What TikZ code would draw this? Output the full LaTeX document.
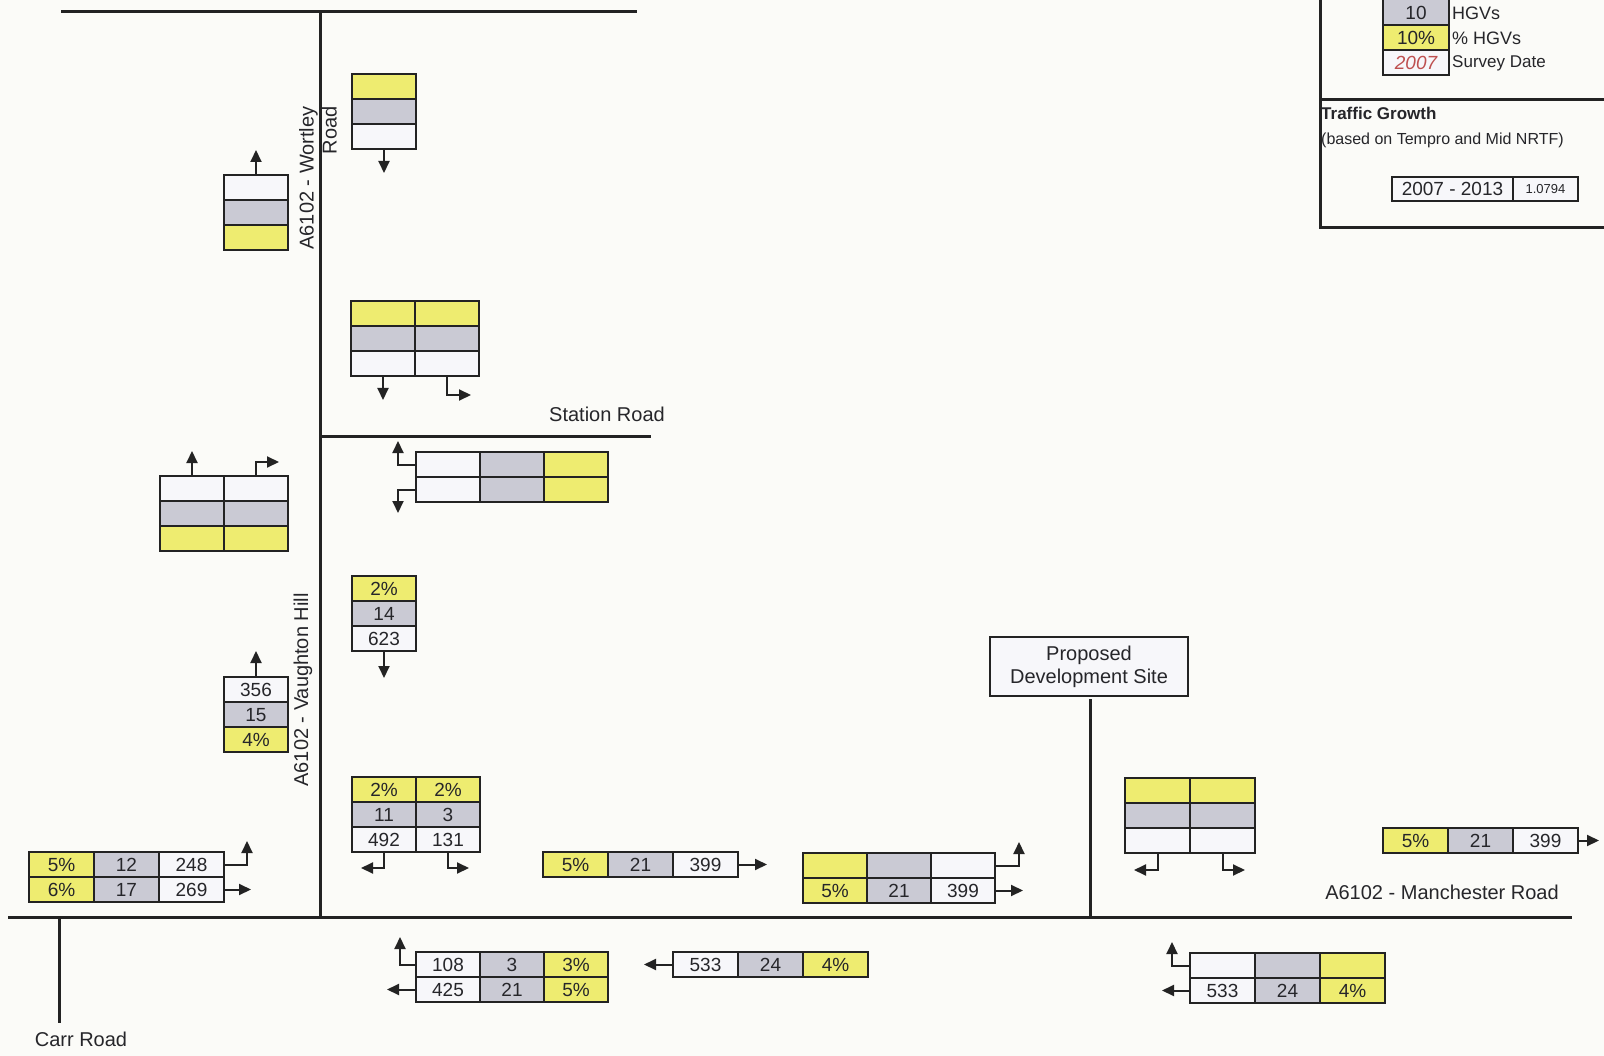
\documentclass[tikz,border=0pt]{standalone}
\usepackage{fontspec}
\setmainfont{Liberation Sans}
\usetikzlibrary{arrows.meta}
\definecolor{yel}{RGB}{238,236,112}
\definecolor{gry}{RGB}{202,202,212}
\definecolor{wht}{RGB}{247,247,250}
\definecolor{linec}{RGB}{35,35,35}
\definecolor{txtc}{RGB}{38,38,42}
\definecolor{bgc}{RGB}{251,251,248}
\definecolor{redt}{RGB}{190,80,80}
\newcommand\cellnode[6]{\node[#1, minimum width=#4pt, minimum height=#5pt] (#2) at (#3) {#6};}
\begin{document}
\begin{tikzpicture}[x=1pt,y=-1pt,
 cell/.style={draw=linec, line width=2pt, inner sep=0pt, outer sep=0pt, anchor=north west, text=txtc, font=\fontsize{19}{19}\selectfont, text height=13.5pt, text depth=0pt},
 cy/.style={cell, fill=yel}, cg/.style={cell, fill=gry}, cw/.style={cell, fill=wht},
 road/.style={draw=linec, line width=3pt},
 arr/.style={draw=linec, line width=2pt, -{Triangle[length=12pt,width=11pt]}},
 lbl/.style={text=txtc, font=\fontsize{20}{23}\selectfont, inner sep=0pt},
 ]
\useasboundingbox (0,0) rectangle (1604,1056);
\clip (0,0) rectangle (1604,1056);
\fill[bgc] (0,0) rectangle (1604,1056);

% roads
\draw[road] (61,12) -- (637,12);
\draw[road] (320,12) -- (320,917);
\draw[road] (320,437) -- (651,437);
\draw[road] (8,917) -- (1572,917);
\draw[road] (59,917) -- (59,1023);
\draw[road] (1090,699) -- (1090,917);

% legend frame
\draw[road] (1320,-5) -- (1320,228) -- (1610,228);
\draw[road] (1320,100) -- (1610,100);

% Table A
\cellnode{cy}{A1}{352,74}{64}{25}{}
\cellnode{cg}{A2}{352,99}{64}{25}{}
\cellnode{cw}{A3}{352,124}{64}{25}{}
\coordinate (cA) at (384,173);
\draw[arr] (A3.south) -- (cA);

% Table B
\cellnode{cw}{B1}{224,175}{64}{25}{}
\cellnode{cg}{B2}{224,200}{64}{25}{}
\cellnode{cy}{B3}{224,225}{64}{25}{}
\coordinate (cB) at (256,150);
\draw[arr] (B1.north) -- (cB);

% Table C
\cellnode{cy}{C11}{351,301}{64}{25}{}
\cellnode{cy}{C12}{415,301}{64}{25}{}
\cellnode{cg}{C21}{351,326}{64}{25}{}
\cellnode{cg}{C22}{415,326}{64}{25}{}
\cellnode{cw}{C31}{351,351}{64}{25}{}
\cellnode{cw}{C32}{415,351}{64}{25}{}
\coordinate (cC1) at (383,400);
\coordinate (cC2) at (471,395);
\draw[arr] (C31.south) -- (cC1);
\draw[arr] (C32.south) |- (cC2);

% Table D
\cellnode{cw}{D11}{160,476}{64}{25}{}
\cellnode{cw}{D12}{224,476}{64}{25}{}
\cellnode{cg}{D21}{160,501}{64}{25}{}
\cellnode{cg}{D22}{224,501}{64}{25}{}
\cellnode{cy}{D31}{160,526}{64}{25}{}
\cellnode{cy}{D32}{224,526}{64}{25}{}
\coordinate (cD1) at (192,451);
\coordinate (cD2) at (279,462);
\draw[arr] (D11.north) -- (cD1);
\draw[arr] (D12.north) |- (cD2);

% Table E
\cellnode{cw}{E11}{416,452}{64}{25}{}
\cellnode{cg}{E12}{480,452}{64}{25}{}
\cellnode{cy}{E13}{544,452}{64}{25}{}
\cellnode{cw}{E21}{416,477}{64}{25}{}
\cellnode{cg}{E22}{480,477}{64}{25}{}
\cellnode{cy}{E23}{544,477}{64}{25}{}
\coordinate (cE1) at (398,441);
\coordinate (cE2) at (398,513);
\draw[arr] (E11.west) -| (cE1);
\draw[arr] (E21.west) -| (cE2);

% Table F
\cellnode{cy}{F1}{352,576}{64}{25}{2\%}
\cellnode{cg}{F2}{352,601}{64}{25}{14}
\cellnode{cw}{F3}{352,626}{64}{25}{623}
\coordinate (cF) at (384,678);
\draw[arr] (F3.south) -- (cF);

% Table G
\cellnode{cw}{G1}{224,677}{64}{25}{356}
\cellnode{cg}{G2}{224,702}{64}{25}{15}
\cellnode{cy}{G3}{224,727}{64}{25}{4\%}
\coordinate (cG) at (256,651);
\draw[arr] (G1.north) -- (cG);

% Table H
\cellnode{cy}{H11}{352,777}{64}{25}{2\%}
\cellnode{cy}{H12}{416,777}{64}{25}{2\%}
\cellnode{cg}{H21}{352,802}{64}{25}{11}
\cellnode{cg}{H22}{416,802}{64}{25}{3}
\cellnode{cw}{H31}{352,827}{64}{25}{492}
\cellnode{cw}{H32}{416,827}{64}{25}{131}
\coordinate (cH1) at (361,868);
\coordinate (cH2) at (469,868);
\draw[arr] (H31.south) |- (cH1);
\draw[arr] (H32.south) |- (cH2);

% Table I
\cellnode{cy}{I11}{29,852}{65}{25}{5\%}
\cellnode{cg}{I12}{94,852}{65}{25}{12}
\cellnode{cw}{I13}{159,852}{65}{25}{248}
\cellnode{cy}{I21}{29,877}{65}{25}{6\%}
\cellnode{cg}{I22}{94,877}{65}{25}{17}
\cellnode{cw}{I23}{159,877}{65}{25}{269}
\coordinate (cI1) at (247,841);
\coordinate (cI2) at (251,889.5);
\draw[arr] (I13.east) -| (cI1);
\draw[arr] (I23.east) -- (cI2);

% Table J
\cellnode{cy}{J1}{543,852}{65}{25}{5\%}
\cellnode{cg}{J2}{608,852}{65}{25}{21}
\cellnode{cw}{J3}{673,852}{65}{25}{399}
\coordinate (cJ) at (767,864.5);
\draw[arr] (J3.east) -- (cJ);

% Table K
\cellnode{cy}{K11}{803,853}{64}{25}{}
\cellnode{cg}{K12}{867,853}{64}{25}{}
\cellnode{cw}{K13}{931,853}{64}{25}{}
\cellnode{cy}{K21}{803,878}{64}{25}{5\%}
\cellnode{cg}{K22}{867,878}{64}{25}{21}
\cellnode{cw}{K23}{931,878}{64}{25}{399}
\coordinate (cK1) at (1019,842);
\coordinate (cK2) at (1023,890.5);
\draw[arr] (K13.east) -| (cK1);
\draw[arr] (K23.east) -- (cK2);

% Table L
\cellnode{cy}{L11}{1125,778}{65}{25}{}
\cellnode{cy}{L12}{1190,778}{65}{25}{}
\cellnode{cg}{L21}{1125,803}{65}{25}{}
\cellnode{cg}{L22}{1190,803}{65}{25}{}
\cellnode{cw}{L31}{1125,828}{65}{25}{}
\cellnode{cw}{L32}{1190,828}{65}{25}{}
\coordinate (cL1) at (1134,870);
\coordinate (cL2) at (1245,870);
\draw[arr] (L31.south) |- (cL1);
\draw[arr] (L32.south) |- (cL2);

% Table M
\cellnode{cy}{M1}{1383,828}{65}{25}{5\%}
\cellnode{cg}{M2}{1448,828}{65}{25}{21}
\cellnode{cw}{M3}{1513,828}{65}{25}{399}
\coordinate (cM) at (1599,840.5);
\draw[arr] (M3.east) -- (cM);

% Table N
\cellnode{cw}{N11}{416,952}{64}{25}{108}
\cellnode{cg}{N12}{480,952}{64}{25}{3}
\cellnode{cy}{N13}{544,952}{64}{25}{3\%}
\cellnode{cw}{N21}{416,977}{64}{25}{425}
\cellnode{cg}{N22}{480,977}{64}{25}{21}
\cellnode{cy}{N23}{544,977}{64}{25}{5\%}
\coordinate (cN1) at (400,937);
\coordinate (cN2) at (387,989.5);
\draw[arr] (N11.west) -| (cN1);
\draw[arr] (N21.west) -- (cN2);

% Table O
\cellnode{cw}{O1}{673,952}{65}{25}{533}
\cellnode{cg}{O2}{738,952}{65}{25}{24}
\cellnode{cy}{O3}{803,952}{65}{25}{4\%}
\coordinate (cO) at (644,964.5);
\draw[arr] (O1.west) -- (cO);

% Table P
\cellnode{cw}{P11}{1190,953}{65}{25}{}
\cellnode{cg}{P12}{1255,953}{65}{25}{}
\cellnode{cy}{P13}{1320,953}{65}{25}{}
\cellnode{cw}{P21}{1190,978}{65}{25}{533}
\cellnode{cg}{P22}{1255,978}{65}{25}{24}
\cellnode{cy}{P23}{1320,978}{65}{25}{4\%}
\coordinate (cP1) at (1172,942);
\coordinate (cP2) at (1162,990.5);
\draw[arr] (P11.west) -| (cP1);
\draw[arr] (P21.west) -- (cP2);

% development site
\node[draw=linec, line width=2pt, fill=wht, minimum width=198pt, minimum height=59pt, inner sep=0pt, align=center, text=txtc, font=\fontsize{20}{23}\selectfont] (dev) at (1089,666.5) {Proposed\\Development Site};

% labels
\node[lbl] (lstation) at (607,414) {Station Road};
\node[lbl, rotate=90, align=right] (lwortley) at (318,178) {A6102 - Wortley\\Road};
\node[lbl, rotate=90] (lvaughton) at (303,690) {A6102 - Vaughton Hill};
\node[lbl] (lmanch) at (1442,892) {A6102 - Manchester Road};
\node[lbl] (lcarr) at (81,1039) {Carr Road};

% legend
\cellnode{cg}{lg1}{1383,-25}{66}{50}{}
\node[text=txtc, font=\fontsize{19}{19}\selectfont, inner sep=0pt] (lg1t) at (1416,13) {10};
\cellnode{cy}{lg2}{1383,25}{66}{25}{10\%}
\cellnode{cw}{lg3}{1383,50}{66}{25}{\color{redt}\itshape 2007}
\node[lbl, anchor=west, font=\fontsize{18}{18}\selectfont] (lt1) at (1452,13) {HGVs};
\node[lbl, anchor=west, font=\fontsize{18}{18}\selectfont] (lt2) at (1452,38) {\% HGVs};
\node[lbl, anchor=west, font=\fontsize{17}{17}\selectfont] (lt3) at (1452,63) {Survey Date};
\node[lbl, anchor=west, font=\fontsize{17}{17}\selectfont\bfseries] (ltg) at (1321,113) {Traffic Growth};
\node[lbl, anchor=west, font=\fontsize{16}{16}\selectfont] (ltb) at (1321,140) {(based on Tempro and Mid NRTF)};
\node[cw, minimum width=121pt, minimum height=24pt] (gr1) at (1392,177) {2007 - 2013};
\node[cw, minimum width=65pt, minimum height=24pt, font=\fontsize{13}{13}\selectfont, text height=9.5pt] (gr2) at (1513,177) {1.0794};
\end{tikzpicture}
\end{document}
